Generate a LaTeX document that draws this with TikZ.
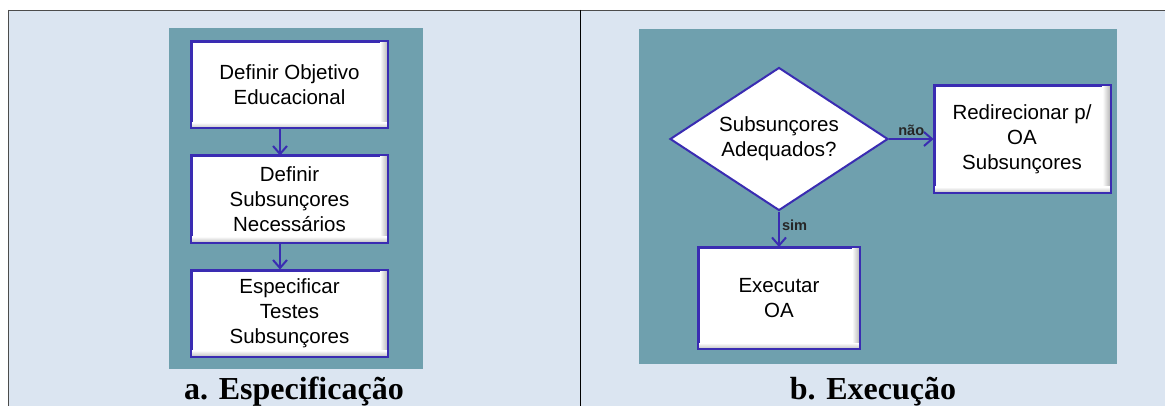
\documentclass[tikz,border=0pt]{standalone}
\usepackage{fontspec}
\setmainfont{Liberation Serif}
\setsansfont{Liberation Sans}
\usepackage{tikz}
\usetikzlibrary{shapes.geometric,arrows.meta}
\definecolor{fundo}{RGB}{219,229,241}
\definecolor{teal}{RGB}{111,160,174}
\definecolor{borda}{RGB}{58,44,178}
\tikzstyle{caixa} = [rectangle, fill=white, draw=borda, line width=1pt, align=center, font=\sffamily\fontsize{10.25}{12.5}\selectfont]
\tikzstyle{losango} = [diamond, aspect=1.52, fill=white, draw=borda, line width=1pt, minimum width=109pt, minimum height=71.5pt, inner sep=0pt, align=center, font=\sffamily\fontsize{10.25}{12.5}\selectfont]
\tikzstyle{seta} = [draw=borda, line width=1pt, -{Straight Barb[length=4pt, width=7pt]}]
\tikzstyle{rotulo} = [font=\sffamily\bfseries\fontsize{7.3}{8}\selectfont, text=black!85, inner sep=1pt]
\tikzstyle{legenda} = [anchor=base, font=\bfseries\fontsize{16}{18}\selectfont]

\begin{document}
\begin{tikzpicture}[x=0.5pt, y=-0.5pt, node distance=57pt]
			\useasboundingbox (0,0) rectangle (1165,406);
			% fundo da tabela
			\fill[fundo] (8,10) rectangle (1165,406);
			\draw[black!70] (8,10) -- (1165,10);
			\draw[black!70] (8,10) -- (8,406);
			\draw (580,10) -- (580,406);
			\fill[teal] (169,28) rectangle (423,369);
			\fill[teal] (639,29) rectangle (1117,364);

			% a. especificacao
			\node (obj) [caixa, minimum width=97.5pt, minimum height=42.5pt] at (289.5,85) {Definir Objetivo\\Educacional};
			\node (sub) [caixa, minimum width=97.5pt, minimum height=42.5pt, below of=obj] {Definir\\Subsunçores\\Necessários};
			\node (tes) [caixa, minimum width=97.5pt, minimum height=42.5pt, below of=sub] {Especificar\\Testes\\Subsunçores};

			% b. execucao
			\node (dec) [losango] at (779,139) {Subsunçores\\Adequados?};
			\node (red) [caixa, minimum width=87.5pt, minimum height=53pt, right of=dec, node distance=121.5pt] {Redirecionar p/\\OA\\Subsunçores};
			\node (exe) [caixa, minimum width=80pt, minimum height=50pt, below of=dec, node distance=79.5pt] {Executar\\OA};

			% sombra das caixas
			\foreach \n in {obj,sub,tes,red,exe} {
				\shade[left color=white, right color=black!30] ([xshift=-4pt]\n.north east) rectangle (\n.south east);
				\shade[top color=white, bottom color=black!25] ([yshift=3pt]\n.south west) rectangle (\n.south east);
				\draw[borda, line width=1pt] (\n.north west) rectangle (\n.south east);
			}

			% setas
			\draw [seta] ([xshift=-4.75pt]obj.south) -- ([xshift=-4.75pt]sub.north);
			\draw [seta] ([xshift=-4.75pt]sub.south) -- ([xshift=-4.75pt]tes.north);
			\draw [seta] (dec.east) -- node[rotulo, above] {não} (red.west);
			\draw [seta] (dec.south) -- node[rotulo, right, pos=0.4] {sim} (exe.north);

			% legendas
			\node (lega) [legenda] at (294,399) {a. Especificação};
			\node (legb) [legenda] at (873,399) {b. Execução};
		\end{tikzpicture}
\end{document}
